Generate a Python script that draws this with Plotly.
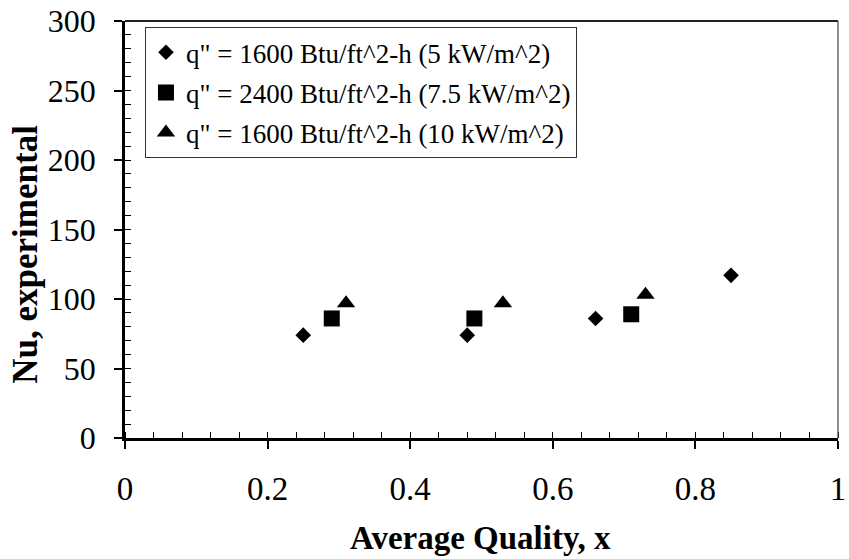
import plotly.graph_objects as go

# ---- data ----
names = [
    'q" = 1600 Btu/ft^2-h (5 kW/m^2)',
    'q" = 2400 Btu/ft^2-h (7.5 kW/m^2)',
    'q" = 1600 Btu/ft^2-h (10 kW/m^2)',
]
diamond_x = [0.25, 0.48, 0.66, 0.85]
diamond_y = [74, 74, 86, 117]
square_x = [0.29, 0.49, 0.71]
square_y = [86, 86, 89]
triangle_x = [0.31, 0.53, 0.73]
triangle_y = [97, 97, 103]

x_ticks = [0, 0.2, 0.4, 0.6, 0.8, 1]
x_ticklabels = ["0", "0.2", "0.4", "0.6", "0.8", "1"]
y_ticks = [0, 50, 100, 150, 200, 250, 300]

x_title = "<b>Average Quality, x</b>"
y_title = "<b>Nu, experimental</b>"

FONT = "Liberation Serif"

fig = go.Figure()
series = [
    (diamond_x, diamond_y, "diamond", 12),
    (square_x, square_y, "square", 16),
    (triangle_x, triangle_y, "triangle-up", 16),
]
for i, (xs, ys, sym, sz) in enumerate(series):
    fig.add_trace(go.Scatter(
        x=xs, y=ys, mode="markers", name=names[i], legendgroup=f"g{i}",
        marker=dict(symbol=sym, size=sz, color="black"),
    ))

fig.update_layout(
    width=849, height=559,
    margin=dict(l=125, r=3, t=20, b=121),
    paper_bgcolor="white", plot_bgcolor="white",
    font=dict(family=FONT, color="black"),
    showlegend=True,
    legend=dict(
        x=0.028, y=0.985, xanchor="left", yanchor="top",
        bgcolor="white", bordercolor="#333", borderwidth=1,
        font=dict(family=FONT, size=27, color="black"),
        tracegroupgap=2,
    ),
    xaxis=dict(
        range=[0, 1], tickvals=x_ticks, ticktext=x_ticklabels,
        showgrid=False, zeroline=False,
        showline=True, linecolor="black", linewidth=2.5,
        ticks="outside", ticklen=8, tickwidth=1.5, tickcolor="black",
        ticklabelstandoff=12, ticklabeloverflow="allow",
        tickfont=dict(family=FONT, size=33),
        minor=dict(dtick=0.04, ticks="inside", ticklen=6, tickwidth=1.2, tickcolor="black"),
    ),
    yaxis=dict(
        range=[0, 300], tickvals=y_ticks,
        showgrid=False, zeroline=False,
        showline=True, linecolor="black", linewidth=2.5,
        ticks="outside", ticklen=8, tickwidth=1.5, tickcolor="black",
        ticklabelstandoff=12,
        tickfont=dict(family=FONT, size=32),
        minor=dict(dtick=10, ticks="inside", ticklen=6, tickwidth=1.2, tickcolor="black"),
    ),
    xaxis2=dict(overlaying="x", matches="x", anchor="y", range=[0, 1], tickvals=x_ticks,
                showticklabels=False, showgrid=False, zeroline=False, showline=False,
                ticks="inside", ticklen=8, tickwidth=1.5, tickcolor="black"),
    yaxis2=dict(overlaying="y", matches="y", anchor="x", range=[0, 300], tickvals=y_ticks,
                showticklabels=False, showgrid=False, zeroline=False, showline=False,
                ticks="inside", ticklen=8, tickwidth=1.5, tickcolor="black"),
    shapes=[
        dict(type="line", xref="paper", yref="paper", x0=0, x1=1, y0=1, y1=1,
             line=dict(color="#222", width=2)),
        dict(type="line", xref="paper", yref="paper", x0=1, x1=1, y0=0, y1=1,
             line=dict(color="#444", width=1.2)),
    ],
    annotations=[
        dict(text=x_title, xref="paper", yref="paper", x=0.498, y=-0.24,
             xanchor="center", yanchor="middle", showarrow=False,
             font=dict(family=FONT, size=33, color="black")),
        dict(text=y_title, xref="paper", yref="paper", x=-0.14, y=0.44,
             xanchor="center", yanchor="middle", showarrow=False, textangle=-90,
             font=dict(family=FONT, size=35, color="black")),
    ],
)

fig.write_html("out.html")
